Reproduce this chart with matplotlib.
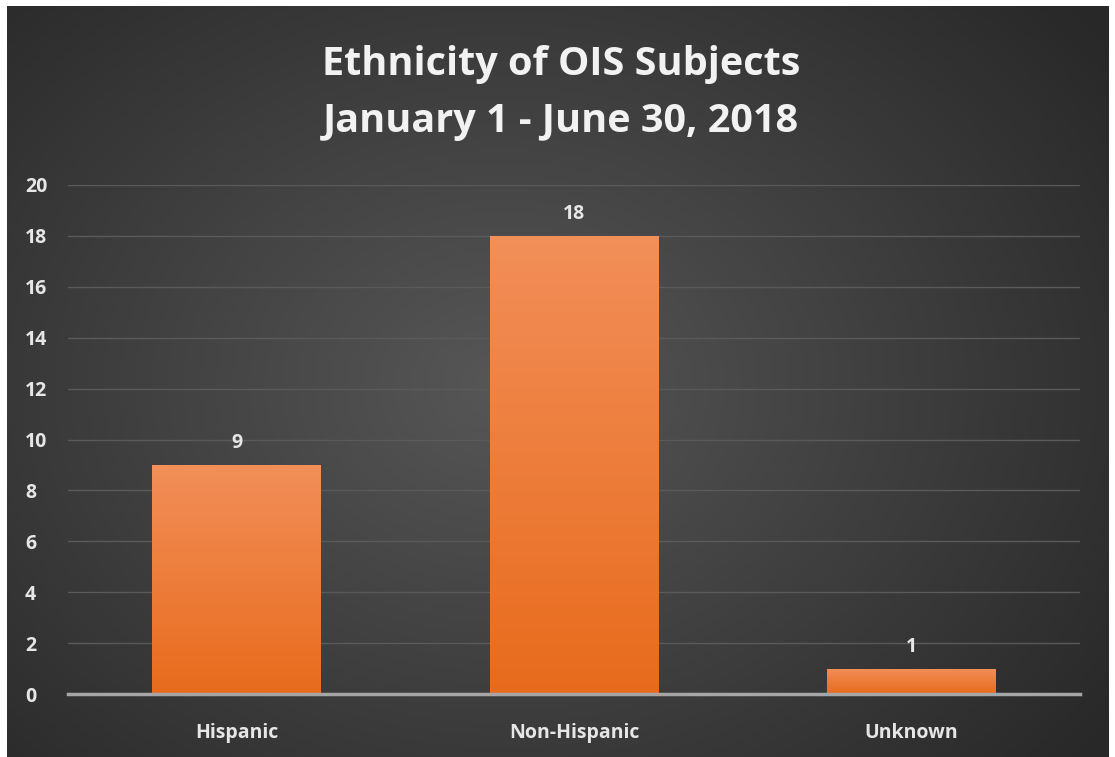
import numpy as np
import matplotlib.pyplot as plt
from matplotlib.patches import Rectangle

categories = ['Hispanic', 'Non-Hispanic', 'Unknown']
counts = [9, 18, 1]
yticks = [0, 2, 4, 6, 8, 10, 12, 14, 16, 18, 20]
title = 'Ethnicity of OIS Subjects\nJanuary 1 - June 30, 2018'

plt.rcParams['font.family'] = ['Open Sans', 'DejaVu Sans']

W, H = 1115, 757
fig = plt.figure(figsize=(W / 100, H / 100), dpi=100)
fig.patch.set_facecolor('white')

# dark panel with a radial glow
bg = fig.add_axes([7 / W, -0.01, 1102 / W, 751 / H + 0.01])
bg.set_axis_off()
yy, xx = np.mgrid[0:1:300j, 0:1:440j]
r = np.sqrt(((xx - 0.45) / 0.75) ** 2 + ((yy - 0.5) / 0.85) ** 2)
shade = np.clip(0.34 - 0.20 * r, 0.16, 0.34)
bg.imshow(np.dstack([shade] * 3), aspect='auto', extent=[0, 1, 0, 1])
bg.set_xlim(0, 1)
bg.set_ylim(0, 1)

ax = fig.add_axes([68 / W, 63 / H, 1012 / W, 509 / H])
ax.set_facecolor('none')
x = np.arange(len(categories))
bars = ax.bar(x, counts, width=0.5, color='none', zorder=3)

# orange vertical gradient clipped to each bar
grad = np.linspace(0, 1, 256).reshape(-1, 1)
top = np.array([0.95, 0.56, 0.35])
bot = np.array([0.91, 0.42, 0.11])
img = bot + (top - bot) * grad
for b in bars:
    bx, by = b.get_x(), b.get_y()
    bw, bh = b.get_width(), b.get_height()
    im = ax.imshow(img[:, None, :].repeat(2, axis=1), origin='lower', aspect='auto',
                   extent=[bx, bx + bw, by, by + bh], zorder=3)
    clip = Rectangle((bx, by), bw, bh, transform=ax.transData)
    im.set_clip_path(clip)

for xi, v in zip(x, counts):
    ax.text(xi, v + 0.45, str(v), ha='center', va='bottom', color='#e6e6e6',
            fontsize=14, fontweight='bold', zorder=4)

ax.set_xlim(-0.5, 2.5)
ax.set_ylim(0, 20)
ax.set_yticks(yticks)
ax.set_xticks(x)
ax.set_xticklabels(categories)
ax.grid(axis='y', color='#5a5a5a', linewidth=1, zorder=1)
for s in ['top', 'right', 'left']:
    ax.spines[s].set_visible(False)
ax.spines['bottom'].set_color('#a6a6a6')
ax.spines['bottom'].set_linewidth(2.5)
ax.spines['bottom'].set_zorder(4)
ax.tick_params(axis='both', length=0, colors='#e6e6e6', labelsize=14)
ax.tick_params(axis='y', pad=31)
ax.tick_params(axis='x', pad=21)
for lab in ax.get_xticklabels() + ax.get_yticklabels():
    lab.set_fontweight('bold')
for lab in ax.get_yticklabels():
    lab.set_horizontalalignment('left')

fig.text(0.503, 0.877, title, ha='center', va='center', color='#f2f2f2',
         fontsize=28.5, fontweight='bold', linespacing=1.6)

fig.savefig('out.png', dpi=100, facecolor=fig.get_facecolor())
